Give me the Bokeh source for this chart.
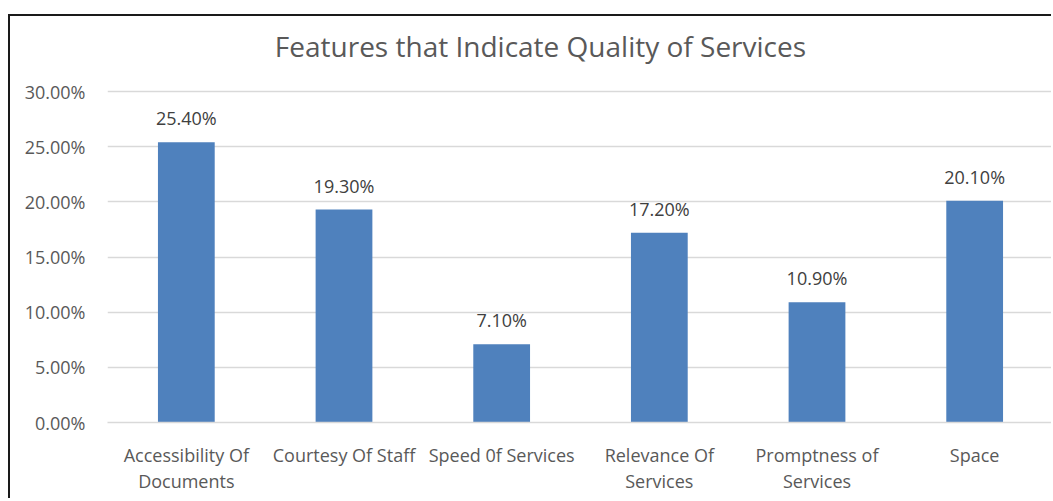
from bokeh.plotting import figure
from bokeh.models import ColumnDataSource, Range1d, FixedTicker, NumeralTickFormatter, LabelSet, Label
from bokeh.core.properties import value
from bokeh.embed import file_html
from bokeh.resources import INLINE

# ---- data ----
categories = [
    "Accessibility Of\nDocuments",
    "Courtesy Of Staff",
    "Speed 0f Services",
    "Relevance Of\nServices",
    "Promptness of\nServices",
    "Space",
]
values_pct = [25.4, 19.3, 7.1, 17.2, 10.9, 20.1]
y_ticks = [0.0, 0.05, 0.10, 0.15, 0.20, 0.25, 0.30]
title_text = "Features that Indicate Quality of Services"

FONT = "Open Sans"
BAR = "#4F81BD"
TXT = "#595959"

src = ColumnDataSource(dict(
    cat=categories,
    val=[v / 100.0 for v in values_pct],
    lab=["{:.2f}%".format(v) for v in values_pct],
))

# plot frame is extended upward so the chart title sits inside it
Y_END = 0.368
p = figure(
    x_range=categories,
    y_range=Range1d(0, Y_END),
    width=1043, height=484,
    output_backend="svg", toolbar_location=None,
    min_border_left=97, min_border_right=0,
    min_border_top=0, min_border_bottom=78,
    margin=(14, 0, 0, 8),
    styles={"border-left": "2px solid #1a1a1a", "border-top": "2px solid #1a1a1a"},
)
p.title = None

p.add_layout(Label(x=2.746, y=0.3417, text=title_text,
                   text_align="center", text_baseline="middle",
                   text_font=FONT, text_font_size="28px", text_color=TXT))

p.vbar(x="cat", top="val", width=0.36, source=src, fill_color=BAR, line_color=None)

p.add_layout(LabelSet(x="cat", y="val", text="lab", source=src,
                      text_align="center", text_baseline="middle", y_offset=24,
                      text_font=value(FONT), text_font_size=value("18px"),
                      text_color="#404040"))

p.outline_line_color = None
p.background_fill_color = "white"
p.border_fill_color = "white"

p.xgrid.grid_line_color = None
p.ygrid.grid_line_color = "#d9d9d9"
p.ygrid.grid_line_width = 1.5

p.yaxis.ticker = FixedTicker(ticks=y_ticks)
p.yaxis.formatter = NumeralTickFormatter(format="0.00%")
p.yaxis.axis_line_color = None
p.yaxis.major_tick_line_color = None
p.yaxis.minor_tick_line_color = None
p.yaxis.major_label_standoff = 16
p.yaxis.major_label_text_font = FONT
p.yaxis.major_label_text_font_size = "18px"
p.yaxis.major_label_text_color = TXT

p.xaxis.axis_line_color = "#d9d9d9"
p.xaxis.axis_line_width = 1.5
p.xaxis.major_tick_line_color = None
p.xaxis.minor_tick_line_color = None
p.xaxis.major_label_standoff = 14
p.xaxis.major_label_text_font = FONT
p.xaxis.major_label_text_font_size = "18px"
p.xaxis.major_label_text_color = TXT
p.xaxis.major_label_text_line_height = 1.1

open("out.html", "w").write(file_html(p, INLINE))
